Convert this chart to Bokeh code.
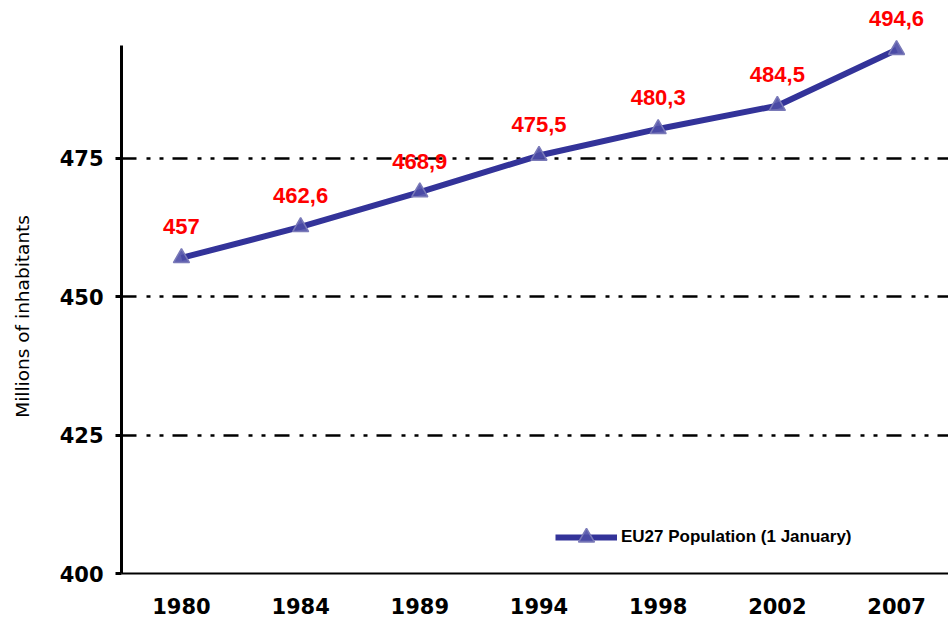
from bokeh.plotting import figure
from bokeh.models import FixedTicker, ColumnDataSource, Legend, LegendItem
from bokeh.embed import file_html
from bokeh.resources import INLINE
from bokeh.core.properties import value

years = ["1980", "1984", "1989", "1994", "1998", "2002", "2007"]
population = [457.0, 462.6, 468.9, 475.5, 480.3, 484.5, 494.6]
point_labels = ["457", "462,6", "468,9", "475,5", "480,3", "484,5", "494,6"]
y_ticks = [400, 425, 450, 475]
series_name = "EU27 Population (1 January)"
y_title = "Millions of inhabitants"

xs = list(range(len(years)))
src = ColumnDataSource(dict(x=xs, y=population, lab=point_labels))

p = figure(width=948, height=618, output_backend="svg", toolbar_location=None,
           x_range=(-0.503, 6.436), y_range=(400, 503.5),
           min_border_left=121, min_border_right=0, min_border_top=0, min_border_bottom=45)
p.outline_line_color = None
p.background_fill_color = "white"
p.border_fill_color = "white"

# grid
p.xgrid.visible = False
p.ygrid.ticker = FixedTicker(ticks=[425, 450, 475])
p.ygrid.grid_line_color = "black"
p.ygrid.grid_line_width = 2.5
p.ygrid.grid_line_dash = "15 10 4 9 4 9"

# y axis
ya = p.yaxis[0]
ya.ticker = FixedTicker(ticks=y_ticks)
ya.bounds = (400, 495.4)
ya.axis_line_width = 3
ya.axis_line_color = "black"
ya.major_tick_out = 6
ya.major_tick_in = 0
ya.major_tick_line_width = 3
ya.minor_tick_line_color = None
ya.major_label_text_font = "DejaVu Sans"
ya.major_label_text_font_style = "bold"
ya.major_label_text_font_size = "21px"
ya.major_label_text_color = "black"
ya.major_label_standoff = 12
# trailing no-break spaces shift the visible title down to where the reference has it
ya.axis_label = y_title + "\u00a0" * 10
ya.axis_label_text_font = "DejaVu Sans"
ya.axis_label_text_font_style = "normal"
ya.axis_label_text_font_size = "18.5px"
ya.axis_label_text_color = "black"
ya.axis_label_standoff = 24

# x axis
xa = p.xaxis[0]
xa.ticker = FixedTicker(ticks=xs)
xa.major_label_overrides = {i: y for i, y in enumerate(years)}
xa.axis_line_width = 2
xa.axis_line_color = "black"
xa.major_tick_line_color = None
xa.minor_tick_line_color = None
xa.major_label_text_font = "DejaVu Sans"
xa.major_label_text_font_style = "bold"
xa.major_label_text_font_size = "21px"
xa.major_label_text_color = "black"
xa.major_label_standoff = 18

ln = p.line("x", "y", source=src, line_color="#333399", line_width=6)
sc = p.scatter("x", "y", source=src, marker="triangle", size=16,
               fill_color="#4d4da6", fill_alpha=0.9, line_color="#7a7ab8", line_width=1.5)

p.text("x", "y", text="lab", source=src, text_color="#ff0000",
       text_font=value("Liberation Sans"), text_font_style="bold", text_font_size="22px",
       text_align="center", text_baseline="middle", y_offset=-31)

legend = Legend(items=[LegendItem(label=series_name, renderers=[ln, sc])],
                location=(434, 16), padding=0, margin=0, glyph_width=62, glyph_height=40,
                label_standoff=4, border_line_color=None, background_fill_alpha=0,
                label_text_font="Liberation Sans", label_text_font_style="bold",
                label_text_font_size="17px", label_text_color="black")
p.add_layout(legend, "center")

open("out.html", "w").write(file_html(p, INLINE))
